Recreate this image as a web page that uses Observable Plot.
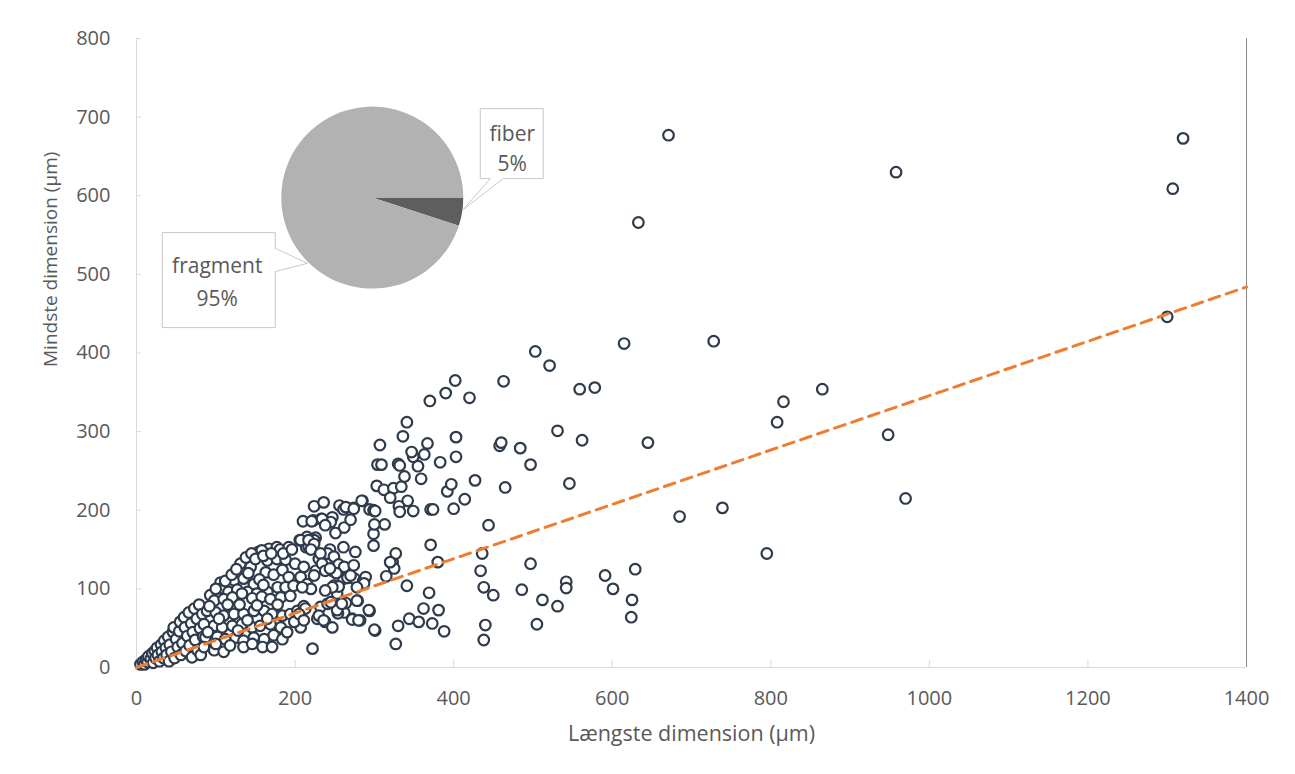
<!DOCTYPE html>
<html><head><meta charset="utf-8">
<script src="https://cdn.jsdelivr.net/npm/d3@7"></script>
<script src="https://cdn.jsdelivr.net/npm/@observablehq/plot@0.6"></script>
<style>
body{margin:0;background:#fff;}
</style>
</head><body><div id="chart"></div>
<script>
// ---- data ----
const xTicks = [0,200,400,600,800,1000,1200,1400];
const yTicks = [0,100,200,300,400,500,600,700,800];
const xTitle = "Længste dimension (µm)";
const yTitle = "Mindste dimension (µm)";
const shapeCategories = ["fiber","fragment"];
const shapeShares = [5,95];
const trendX = [0,1400];
const trendY = [0,484];
// [longest, shortest] in µm
const particles = [
[5,4],[8,7],[10,4],[12,10],[14,7],[15,14],[18,11],[20,18],[21,6],[23,21],[24,12],[26,25],[27,16],[29,8],[31,29],[32,20],[34,12],[35,34],[37,25],[38,16],[40,39],[41,8],[42,29],[44,20],[46,45],[47,51],[48,12],[50,36],[52,26],[54,46],[55,58],[56,16],[58,31],[60,64],[61,51],[62,21],[64,40],[66,70],[67,28],[69,56],[70,13],[71,45],[73,75],[74,35],[76,62],[77,22],[79,80],[80,50],[81,16],[83,68],[84,39],[86,28],
[93,92],[106,108],[131,132],[154,147],[167,151],[177,153],[158,149],[181,150],[192,153],
[144,128],[165,136],[177,138],[188,137],[200,132],[211,128],
[163,121],[173,118],[184,124],[192,115],[207,115],[215,106],[220,100],
[123,111],[135,113],[148,106],
[108,101],[116,96],[127,99],[140,96],[152,94],[165,96],[178,102],[188,102],[198,104],[209,102],
[98,85],[110,87],[121,89],[133,94],[146,88],[158,90],[169,87],[182,89],[194,91],
[89,72],[100,70],[110,66],[123,68],[135,68],[148,72],[161,72],[171,68],[184,66],[194,68],[203,72],[211,78],
[85,55],[98,53],[108,51],[121,53],[133,55],[146,51],[156,53],[169,55],[182,51],[205,60],[207,51],
[87,38],[102,39],[112,36],[125,38],[135,34],[148,38],[161,36],[173,41],[184,36],
[85,26],[98,22],[110,20],[135,26],[159,26],[171,26],[222,24],
[92,78],[104,62],[115,80],[128,47],[140,60],[152,79],[165,62],[178,80],[190,45],[199,58],[118,28],[146,30],[100,30],[90,45],
[100,100],[112,110],[120,118],[126,125],[138,140],[145,145],[150,138],[160,142],[170,145],[185,145],[196,150],[141,120],[155,112],[130,80],[160,105],
[224,205],[236,210],[256,206],[261,201],[274,203],[285,212],[294,201],[300,199],[233,189],[223,187],[247,191],[245,185],[210,186],[251,171],[262,178],[270,188],[299,170],[299,155],[313,182],[206,162],[215,166],[220,162],[226,165],[214,153],[222,153],[243,145],[261,153],[276,147],[224,162],[217,154],[244,150],[241,145],[230,138],[249,141],[226,123],[224,117],[247,123],[255,131],[261,113],[266,114],[275,113],[286,110],[249,104],[254,101],[315,116],[323,134],[327,145],[325,126],[341,104],[279,85],[232,77],[241,81],[255,78],[262,70],[254,69],[213,75],[228,62],[238,58],[247,51],[294,72],[301,47],[272,62],[282,60],[221,186],[234,189],[238,181],[207,162],[217,162],[224,157],[220,150],[232,145],[234,132],[238,123],[205,68],[211,60],[230,66],[236,60],[253,73],[264,82],[278,85],[293,73],[300,48],[272,61],[280,60],[253,94],[259,81],[245,83],[255,103],[247,102],[238,98],[262,128],[270,117],[274,130],[289,115],[287,107],[278,102],[252,120],[244,126],[304,258],[309,258],[330,259],[332,257],[303,231],[312,226],[324,228],[334,230],[320,216],[342,212],[331,205],[332,198],[349,199],[284,212],[299,200],[301,199],[264,204],[274,202],
[307,283],[336,294],[341,312],[349,268],[347,274],[363,271],[367,285],[370,339],[390,349],[402,365],[420,343],[403,293],[403,268],[383,261],[355,256],[338,243],[359,240],[371,201],[374,201],[392,224],[397,233],[427,238],[414,214],[400,202],[300,182],[371,156],[320,134],[380,134],[436,145],[434,123],[438,102],[450,92],[369,95],[362,75],[381,73],[344,62],[356,58],[373,56],[388,46],[330,53],[440,54],[438,35],[327,30],[444,181],
[503,402],[521,384],[463,364],[615,412],[559,354],[578,356],[531,301],[562,289],[645,286],[458,282],[460,286],[484,279],[497,258],[465,229],[546,234],[685,192],[497,132],[486,99],[512,86],[531,78],[542,109],[542,101],[591,117],[601,100],[629,125],[625,86],[624,64],[505,55],[633,566],[671,677],
[728,415],[865,354],[816,338],[808,312],[948,296],[970,215],[739,203],[795,145],[958,630],[1307,609],[1320,673],[1300,446]
];

// ---- layout constants for the inset pie ----
const pieCenter = {x: 298, y: 597}; // in chart data units
const pieRadius = 91;                // px
const pieColors = {fiber: "#5e5e5e", fragment: "#b2b2b2"};

function pieMark(index, scales, values, dimensions) {
  const ns = "http://www.w3.org/2000/svg";
  const g = document.createElementNS(ns, "g");
  const cx = scales.x(pieCenter.x), cy = scales.y(pieCenter.y);
  const slices = d3.pie().sort(null).startAngle(Math.PI/2).endAngle(Math.PI/2 + 2*Math.PI)(shapeShares);
  const arc = d3.arc().innerRadius(0).outerRadius(pieRadius);
  slices.forEach((s, i) => {
    const p = document.createElementNS(ns, "path");
    p.setAttribute("d", arc(s));
    p.setAttribute("transform", `translate(${cx},${cy})`);
    p.setAttribute("fill", pieColors[shapeCategories[i]]);
    g.appendChild(p);
  });
  // callouts
  const callouts = [
    {i: 0, path: `M108,-89H171V-19H131L91,12L118,-19H108Z`, tx: 140, ty: [-65, -35]},
    {i: 1, path: `M-210,35H-97V50.7L-64.7,65.7L-97,74V130H-210Z`, tx: -155, ty: [67, 100]}
  ];
  for (const c of callouts) {
    const p = document.createElementNS(ns, "path");
    p.setAttribute("d", c.path);
    p.setAttribute("transform", `translate(${cx},${cy})`);
    p.setAttribute("fill", "#fff");
    p.setAttribute("stroke", "#c8c8c8");
    p.setAttribute("stroke-width", "1");
    g.appendChild(p);
    const lines = [shapeCategories[c.i], shapeShares[c.i] + "%"];
    lines.forEach((t, k) => {
      const tx = document.createElementNS(ns, "text");
      tx.setAttribute("x", cx + c.tx);
      tx.setAttribute("y", cy + c.ty[k]);
      tx.setAttribute("text-anchor", "middle");
      tx.setAttribute("dominant-baseline", "central");
      tx.setAttribute("fill", "#595959");
      tx.setAttribute("font-size", "21");
      tx.setAttribute("font-family", "Open Sans, sans-serif");
      tx.textContent = t;
      g.appendChild(tx);
    });
  }
  return g;
}

const data = particles.map(([x, y]) => ({x, y}));
const trend = trendX.map((x, i) => ({x, y: trendY[i]}));

const chart = Plot.plot({
  width: 1295, height: 774,
  marginLeft: 136, marginRight: 49, marginTop: 38, marginBottom: 107,
  style: {fontFamily: "Open Sans, sans-serif", fontSize: "20px", color: "#595959", background: "#fff"},
  x: {domain: [0, 1400], ticks: xTicks, tickSize: 0, tickPadding: 23, label: null, tickFormat: d => String(d)},
  y: {domain: [0, 800], ticks: yTicks, tickSize: 0, tickPadding: 26, label: null, tickFormat: d => String(d)},
  marks: [
    Plot.ruleY(yTicks, {x1: 0, x2: 6, stroke: "#d9d9d9"}),
    Plot.ruleX(xTicks, {y1: 0, y2: 9, stroke: "#d9d9d9"}),
    Plot.ruleX([0], {stroke: "#d9d9d9"}),
    Plot.ruleY([0], {stroke: "#d9d9d9"}),
    Plot.ruleX([1400], {stroke: "#8c8c8c"}),
    Plot.dot(data, {x: "x", y: "y", r: 5.3, fill: "white", stroke: "#2f3b4c", strokeWidth: 2.2}),
    Plot.line(trend, {x: "x", y: "y", stroke: "#ed7d31", strokeWidth: 3, strokeDasharray: "11,7"}),
    pieMark,
    Plot.text([xTitle], {frameAnchor: "bottom", dy: 73, fill: "#595959", fontSize: 21.5}),
    Plot.text([yTitle], {frameAnchor: "left", dx: -86, dy: 14, rotate: -90, fill: "#595959", fontSize: 19})
  ]
});
document.getElementById("chart").appendChild(chart);
</script>
</body></html>
